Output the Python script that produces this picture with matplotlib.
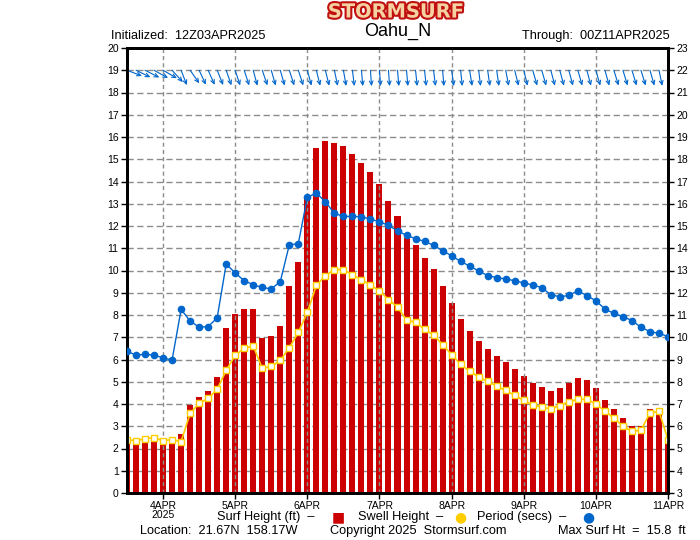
import matplotlib
matplotlib.use("Agg")
import matplotlib.pyplot as plt
import matplotlib.patheffects as pe
from matplotlib.transforms import offset_copy
import numpy as np
import pandas as pd
import matplotlib.dates as mdates

# ---------------- data ----------------
init_time = "2025-04-03 12:00"
n_steps = 61
surf_ft = [2.30, 2.28, 2.32, 2.32, 2.19, 2.19, 2.67, 3.94, 4.30, 4.57, 5.20, 7.40, 8.03, 8.25, 8.25,
           6.95, 7.06, 7.52, 9.32, 10.37, 13.36, 15.52, 15.80, 15.75, 15.61, 15.25, 14.85, 14.44, 13.90, 13.14,
           12.46, 11.45, 11.16, 10.58, 10.08, 9.32, 8.55, 7.84, 7.30, 6.85, 6.49, 6.17, 5.90, 5.59, 5.27,
           4.96, 4.78, 4.60, 4.73, 4.96, 5.18, 5.09, 4.73, 4.19, 3.79, 3.39, 3.03, 3.03, 3.79, 3.75, 2.35]
swell_ft = [2.40, 2.35, 2.44, 2.49, 2.35, 2.40, 2.31, 3.58, 4.03, 4.25, 4.66, 5.51, 6.19, 6.50, 6.61,
            5.60, 5.69, 5.96, 6.53, 7.22, 8.12, 9.33, 9.77, 10.04, 10.04, 9.81, 9.59, 9.35, 9.09, 8.69,
            8.36, 7.78, 7.67, 7.36, 7.10, 6.67, 6.22, 5.78, 5.48, 5.21, 5.02, 4.81, 4.61, 4.39, 4.16,
            3.97, 3.85, 3.79, 3.93, 4.10, 4.21, 4.21, 4.00, 3.69, 3.36, 3.01, 2.77, 2.82, 3.60, 3.67, 2.40]
period_s = [9.37, 9.20, 9.23, 9.20, 9.07, 8.98, 11.25, 10.73, 10.45, 10.48, 10.87, 13.29, 12.89, 12.54, 12.36,
            12.24, 12.17, 12.50, 14.15, 14.21, 16.29, 16.48, 16.09, 15.57, 15.43, 15.43, 15.42, 15.31, 15.19, 15.03,
            14.78, 14.58, 14.43, 14.31, 14.13, 13.89, 13.66, 13.41, 13.20, 12.98, 12.77, 12.68, 12.62, 12.54, 12.44,
            12.35, 12.23, 11.91, 11.82, 11.88, 12.09, 11.87, 11.64, 11.27, 11.07, 10.93, 10.75, 10.45, 10.25, 10.18, 10.03]
# wind direction (degrees the wind blows from), one per time step (last step not drawn)
wind_from = [291, 296, 297, 299, 300, 318, 339, 325, 335, 336, 338, 341, 342, 342, 345,
             341, 344, 344, 342, 342, 345, 346, 346, 348, 350, 353, 355, 356, 356, 356,
             355, 355, 354, 354, 353, 355, 352, 354, 351, 353, 352, 352, 349, 346, 346,
             344, 344, 345, 345, 345, 344, 345, 344, 344, 343, 343, 343, 343, 344, 348]
day_labels = ["4APR\n2025", "5APR", "6APR", "7APR", "8APR", "9APR", "10APR", "11APR"]
left_ticks = list(range(0, 21))
right_ticks = list(range(3, 24))

times = pd.date_range(init_time, periods=n_steps, freq="3h")
xt = mdates.date2num(times.to_pydatetime())
day_ticks = mdates.date2num(pd.date_range("2025-04-04", periods=len(day_labels), freq="D").to_pydatetime())

plt.rcParams['font.family'] = ['Liberation Sans', 'DejaVu Sans']

W, H = 700, 540
fig = plt.figure(figsize=(7, 5.4), dpi=100)
ax = fig.add_axes([127 / W, 47 / H, 541 / W, 445 / H])

RED = '#cc0000'
YEL = '#ffcc00'
BLU = '#0066cc'
GRID = '#8c8c8c'

ax.set_xlim(xt[0], xt[-1])
ax.set_ylim(0, 20)

# horizontal grid (behind bars)
for v in left_ticks[1:-1]:
    ax.axhline(v, color=GRID, lw=1.0, ls=(0, (4.5, 2.5)), zorder=0.5)

ax.bar(xt, surf_ft, width=2 / 24, color=RED, zorder=2, align='center')

# vertical grid (over bars)
for d in day_ticks[:-1]:
    ax.axvline(d, color=GRID, lw=1.0, ls=(0, (3, 2.2)), zorder=2.5)

ax.plot(xt, swell_ft, color=YEL, lw=1.2, marker='s', markersize=3.8,
        markerfacecolor='white', markeredgecolor=YEL, markeredgewidth=1.0, zorder=4)

# wind arrows at y = 19
L = 16
for x, d in zip(xt, wind_from):
    b = np.deg2rad(d - 180)
    dx, dy = L * np.sin(b), L * np.cos(b)
    tr = offset_copy(ax.transData, fig=fig, x=dx, y=dy, units='dots')
    ax.annotate('', xy=(x, 19), xycoords=tr, xytext=(x, 19), textcoords='data',
                arrowprops=dict(arrowstyle='->,head_length=0.28,head_width=0.13',
                                color=BLU, lw=0.8, shrinkA=0, shrinkB=0,
                                mutation_scale=10), zorder=5)

ax.set_yticks(left_ticks)
ax.set_yticklabels([str(v) for v in left_ticks])
ax.set_xticks(day_ticks)
ax.set_xticklabels(day_labels)
ax.tick_params(axis='y', labelsize=7.5, length=4, width=1, pad=2)
ax.tick_params(axis='x', labelsize=7.5, length=4, width=1, pad=1.5)
for lab in ax.get_xticklabels():
    lab.set_linespacing(0.95)

ax2 = ax.twinx()
ax2.set_ylim(3, 23)
ax2.set_yticks(right_ticks)
ax2.set_yticklabels([str(v) for v in right_ticks])
ax2.tick_params(axis='y', labelsize=7.5, length=4, width=1, pad=2)
ax2.plot(xt, period_s, color=BLU, lw=1.0, marker='o', markersize=4.5,
         markerfacecolor=BLU, markeredgecolor=BLU, zorder=5)

for a in (ax, ax2):
    for s in a.spines.values():
        s.set_linewidth(2.0)
        s.set_color('black')

def ftext(x, y, s, **kw):
    return fig.text(x / W, 1 - y / H, s, **kw)

# header
ftext(396, 12, 'STORMSURF', ha='center', va='center', fontsize=14, fontweight='bold',
      family='DejaVu Sans', color='#f6d2a2',
      path_effects=[pe.Stroke(linewidth=3.0, foreground='#c01010'), pe.Normal()])
ftext(398, 31, 'Oahu_N', ha='center', va='center', fontsize=13)
ftext(111, 36, 'Initialized:  12Z03APR2025', ha='left', va='center', fontsize=9.2)
ftext(670, 36, 'Through:  00Z11APR2025', ha='right', va='center', fontsize=9.2)

# legend row
ly = 517
ftext(217, ly, 'Surf Height (ft)  \u2013', ha='left', va='center', fontsize=9.2)
ftext(338, ly, '\u25A0', ha='center', va='center', fontsize=10, color=RED, family='DejaVu Sans')
ftext(358, ly, 'Swell Height  \u2013', ha='left', va='center', fontsize=9.2)
ftext(460, ly, '\u25CF', ha='center', va='center', fontsize=10, color=YEL, family='DejaVu Sans')
ftext(477, ly, 'Period (secs)  \u2013', ha='left', va='center', fontsize=9.2)
ftext(588, ly, '\u25CF', ha='center', va='center', fontsize=10, color=BLU, family='DejaVu Sans')

# bottom line
by = 531
ftext(140, by, 'Location:  21.67N  158.17W', ha='left', va='center', fontsize=9.2)
ftext(330, by, 'Copyright 2025  Stormsurf.com', ha='left', va='center', fontsize=9.2)
ftext(686, by, 'Max Surf Ht  =  15.8  ft', ha='right', va='center', fontsize=9.2)

fig.savefig('out.png', dpi=100)
